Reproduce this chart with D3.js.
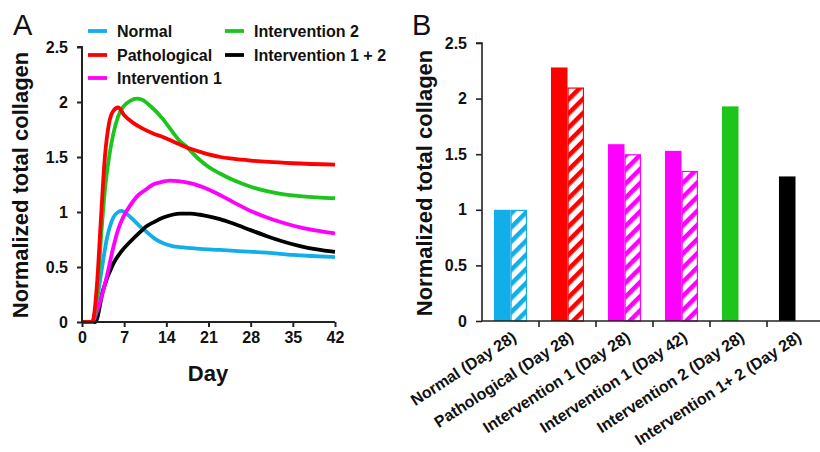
<!DOCTYPE html>
<html><head><meta charset="utf-8">
<script src="https://cdn.jsdelivr.net/npm/d3@7"></script>
<style>
html,body{margin:0;padding:0;background:#fff;}
svg text{font-family:"Liberation Sans",Arial,sans-serif;}
</style></head>
<body><svg id="c" width="820" height="452"></svg>
<script>
// ---------- Panel A data ----------
const seriesNames = ["Normal","Pathological","Intervention 1","Intervention 2","Intervention 1 + 2"];
const seriesColors = ["#12aeea","#ff0000","#ff00ff","#1cc41c","#000000"];
const normalDays = [0,1.7,2.5,3.2,4.1,5.2,6,6.6,7.5,8.5,9.6,10.7,12,13.5,15,16.3,19.6,22.9,26,30.7,35,38,42];
const normalVals = [0,0,0.2,0.45,0.75,0.95,1.0,1.01,0.98,0.93,0.87,0.82,0.76,0.715,0.69,0.68,0.665,0.655,0.645,0.63,0.61,0.6,0.59];
const pathoDays = [0,1.7,2.5,3.1,3.8,4.5,5.2,6,7,8.5,10,12,13.5,16,18,20,23,25,28,31,35,42];
const pathoVals = [0,0,0.35,0.9,1.5,1.81,1.92,1.95,1.88,1.81,1.76,1.71,1.68,1.62,1.575,1.54,1.50,1.485,1.468,1.455,1.443,1.43];
const int1Days = [0,1.7,2.5,3.2,4.1,5.2,6,6.9,8,9.1,10.5,11.8,13,14.6,16,18.5,19.6,21,22.9,25.1,28,30.7,33.5,36.2,39,42];
const int1Vals = [0,0,0.1,0.22,0.41,0.68,0.84,0.96,1.06,1.14,1.2,1.25,1.27,1.285,1.28,1.255,1.235,1.205,1.155,1.09,1.01,0.95,0.9,0.86,0.83,0.805];
const int2Days = [0,1.7,2.5,3.2,3.8,4.5,5.2,6,6.9,8,9.1,10,11,12,13.5,15,16,17.4,19.6,21,22.9,25.1,28,30.7,33,36.2,39,42];
const int2Vals = [0,0,0.25,0.8,1.2,1.5,1.71,1.87,1.96,2.01,2.03,2.02,1.98,1.93,1.84,1.73,1.66,1.59,1.47,1.41,1.35,1.29,1.23,1.19,1.165,1.145,1.133,1.125];
const int12Days = [0,2.2,3.5,5.2,6.5,8,9.5,10.7,12,13.5,15,16.3,18,19.6,21,22.9,25.1,28,30.7,33.5,36.2,39,42];
const int12Vals = [0,0,0.29,0.53,0.64,0.73,0.81,0.87,0.91,0.95,0.975,0.985,0.985,0.975,0.96,0.935,0.895,0.835,0.78,0.73,0.69,0.66,0.637];
const dayTicks = [0,7,14,21,28,35,42];
const yTicks = [0,0.5,1,1.5,2,2.5];
const yTickLabels = ["0","0.5","1","1.5","2","2.5"];

// ---------- Panel B data ----------
const barCategories = ["Normal (Day 28)","Pathological (Day 28)","Intervention 1 (Day 28)","Intervention 1 (Day 42)","Intervention 2 (Day 28)","Intervention 1+ 2 (Day 28)"];
const barSolid = [1.0,2.28,1.59,1.53,1.93,1.30];
const barHatched = [1.0,2.10,1.50,1.35,null,null];
const barColors = ["#12aeea","#ff0000","#ff00ff","#ff00ff","#1cc41c","#000000"];

const svg = d3.select("#c");
const F = '"Liberation Sans",Arial,sans-serif';
const axisColor = "#222";

// ================= Panel A =================
const xA = d3.scaleLinear().domain([0,42]).range([82,335]);
const yA = d3.scaleLinear().domain([0,2.5]).range([322,47]);
const gA = svg.append("g");

const lineData = [
  [normalDays,normalVals],[pathoDays,pathoVals],[int1Days,int1Vals],[int2Days,int2Vals],[int12Days,int12Vals]
];
const drawOrder = [0,4,2,3,1];
const line = d3.line().x(d=>xA(d[0])).y(d=>yA(d[1])).curve(d3.curveMonotoneX);
drawOrder.forEach(i=>{
  const [ds,vs] = lineData[i];
  gA.append("path").datum(ds.map((d,k)=>[d,vs[k]]))
    .attr("d",line).attr("fill","none").attr("stroke",seriesColors[i])
    .attr("stroke-width",3.8).attr("stroke-linejoin","round").attr("stroke-linecap","butt");
});

const axA_y = gA.append("g").attr("transform",`translate(${xA(0)},0)`)
  .call(d3.axisLeft(yA).tickValues(yTicks).tickFormat((d,i)=>yTickLabels[i]).tickSize(5).tickPadding(9));
const axA_x = gA.append("g").attr("transform",`translate(0,${yA(0)})`)
  .call(d3.axisBottom(xA).tickValues(dayTicks).tickSize(5).tickPadding(5));
[axA_y,axA_x].forEach(a=>{
  a.select(".domain").attr("stroke",axisColor).attr("stroke-width",2);
  a.selectAll(".tick line").attr("stroke",axisColor).attr("stroke-width",2);
  a.selectAll("text").attr("font-family",F).attr("font-weight","bold").attr("font-size",16).attr("fill","#111");
});
axA_y.select(".domain").attr("d",`M-5,${yA(2.5)}H0V${yA(0)}`);
axA_x.select(".domain").attr("d",`M${xA(0)},0H${xA(42)}`);

gA.append("text").attr("transform",`translate(28,185) rotate(-90)`).attr("text-anchor","middle")
  .attr("font-family",F).attr("font-weight","bold").attr("font-size",22).attr("fill","#111")
  .text("Normalized total collagen");
gA.append("text").attr("x",208).attr("y",381).attr("text-anchor","middle")
  .attr("font-family",F).attr("font-weight","bold").attr("font-size",22).attr("fill","#111").text("Day");
gA.append("text").attr("x",13).attr("y",35).attr("font-family",F).attr("font-size",29).attr("fill","#111").text("A");

// legend
const legendPos = [[88,31],[88,55],[88,78],[225,31],[225,55]];
seriesNames.forEach((n,i)=>{
  const [lx,ly] = legendPos[i];
  gA.append("line").attr("x1",lx).attr("x2",lx+19).attr("y1",ly).attr("y2",ly)
    .attr("stroke",seriesColors[i]).attr("stroke-width",3.8);
  gA.append("text").attr("x",lx+29).attr("y",ly+6).attr("font-family",F).attr("font-weight","bold")
    .attr("font-size",16).attr("fill","#111").text(n);
});

// ================= Panel B =================
const xB = d3.scaleBand().domain(barCategories).range([482,824]).paddingInner(0).paddingOuter(0);
const yB = d3.scaleLinear().domain([0,2.5]).range([321,43]);
const gB = svg.append("g");
const defs = svg.append("defs");
barColors.forEach((c,i)=>{
  const p = defs.append("pattern").attr("id","hatch"+i).attr("patternUnits","userSpaceOnUse")
    .attr("width",10).attr("height",10).attr("patternTransform","rotate(45)");
  p.append("rect").attr("width",10).attr("height",10).attr("fill","#fff");
  p.append("rect").attr("width",4.6).attr("height",10).attr("fill",c);
});
const bw = xB.bandwidth()*0.29;
barCategories.forEach((cat,i)=>{
  const cx = xB(cat)+xB.bandwidth()/2;
  gB.append("rect").attr("x",cx-bw).attr("y",yB(barSolid[i])).attr("width",bw)
    .attr("height",yB(0)-yB(barSolid[i])).attr("fill",barColors[i]);
  if(barHatched[i]!=null){
    gB.append("rect").attr("x",cx+0.6).attr("y",yB(barHatched[i])+0.6).attr("width",bw-1.2)
      .attr("height",yB(0)-yB(barHatched[i])-0.6).attr("fill",`url(#hatch${i})`)
      .attr("stroke",barColors[i]).attr("stroke-width",1.2);
  }
});
const axB_y = gB.append("g").attr("transform",`translate(482,0)`)
  .call(d3.axisLeft(yB).tickValues(yTicks).tickFormat((d,i)=>yTickLabels[i]).tickSize(6).tickPadding(9));
axB_y.select(".domain").attr("d",`M-6,${yB(2.5)}H0V${yB(0)}`);
axB_y.select(".domain").attr("stroke",axisColor).attr("stroke-width",1.6);
axB_y.selectAll(".tick line").attr("stroke",axisColor).attr("stroke-width",1.6);
axB_y.selectAll("text").attr("font-family",F).attr("font-weight","bold").attr("font-size",16).attr("fill","#111");

const gBx = gB.append("g");
gBx.append("line").attr("x1",482).attr("x2",824).attr("y1",yB(0)).attr("y2",yB(0))
  .attr("stroke",axisColor).attr("stroke-width",1.6);
barCategories.forEach((cat,i)=>{
  const bx = xB(cat)+xB.bandwidth();
  gBx.append("line").attr("x1",bx).attr("x2",bx).attr("y1",yB(0)).attr("y2",yB(0)+6)
    .attr("stroke",axisColor).attr("stroke-width",1.6);
  const cx = xB(cat)+xB.bandwidth()/2;
  gBx.append("text").attr("transform",`translate(${cx+7},${yB(0)+19}) rotate(-33)`)
    .attr("text-anchor","end").attr("font-family",F).attr("font-weight","bold")
    .attr("font-size",16).attr("fill","#111").text(cat);
});
gB.append("text").attr("transform",`translate(432,183) rotate(-90)`).attr("text-anchor","middle")
  .attr("font-family",F).attr("font-weight","bold").attr("font-size",22).attr("fill","#111")
  .text("Normalized total collagen");
gB.append("text").attr("x",412).attr("y",35).attr("font-family",F).attr("font-size",29).attr("fill","#111").text("B");
</script></body></html>
